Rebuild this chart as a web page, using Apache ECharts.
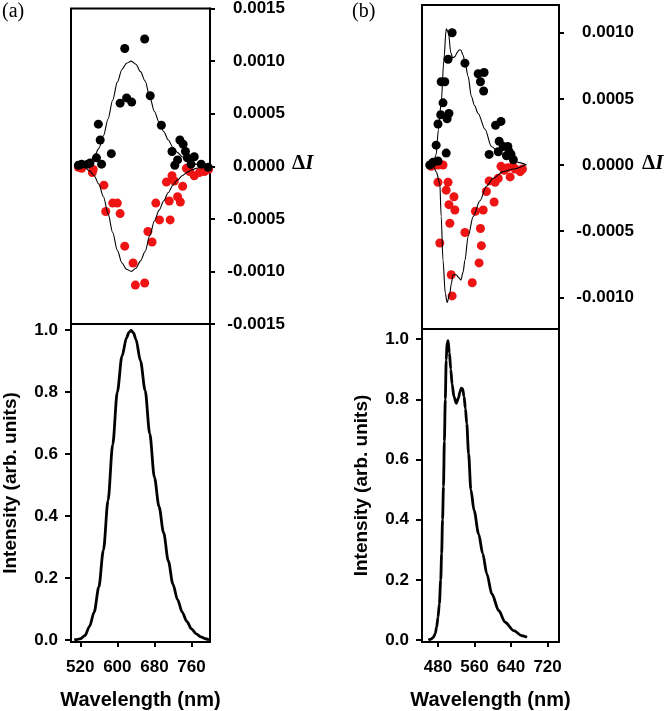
<!DOCTYPE html>
<html><head><meta charset="utf-8">
<script src="https://cdn.jsdelivr.net/npm/echarts@6/dist/echarts.min.js"></script>
<style>html,body{margin:0;padding:0;background:#fff}#c{width:666px;height:711px}</style>
</head><body><div id="c"></div>
<script>
// ---------- Panel (a) ----------
const blackAx = [516,523,536,541,555,559,563,566,587,606,616,620,631,659,671,695,718,724,730,735,742,747,751,759,766,781,796];
const blackAy = [0.00001,0.00002,0.00002,0.00003,0.00008,0.0004,0.00025,0.00002,0.00012,0.0006,0.00112,0.00065,0.00061,0.00121,0.00067,0.00039,0.00014,0.00001,0.00006,0.00025,0.00021,0.00014,0.00008,0.00002,0.00009,0.00002,-0.00001];
const redAx = [516,523,546,548,571,575,590,600,606,616,634,639,659,666,675,683,691,706,712,714,718,723,730,736,741,749,756,766,777,788,797];
const redAy = [-0.00001,-0.00002,-0.00006,-0.00003,-0.00018,-0.00043,-0.00035,-0.00035,-0.00045,-0.00076,-0.00092,-0.00113,-0.00111,-0.00062,-0.00072,-0.00035,-0.00051,-0.00015,-0.00033,-0.00051,-0.00009,-0.00014,-0.00029,-0.00034,-0.00019,-0.00002,-0.00005,-0.00009,-0.00006,-0.00005,-0.00003];
const fitAx = [515,520,530,540,550,560,570,580,590,600,610,620,630,640,650,660,670,680,690,700,710,720,730,740,750,760,770,780,790,800];
const fitApos = [0,0.000004,0.000014,0.000044,0.00009,0.00017,0.00029,0.00045,0.00063,0.0008,0.00092,0.00098,0.001,0.00097,0.0009,0.00081,0.00066,0.00052,0.00042,0.00033,0.00025,0.00018,0.00013,0.00009,0.00006,0.000036,0.00002,0.00001,0.000004,0];
const fitAneg = [0,-0.000004,-0.000014,-0.000044,-0.00009,-0.00017,-0.00029,-0.00045,-0.00063,-0.0008,-0.00092,-0.00098,-0.001,-0.00097,-0.0009,-0.00081,-0.00066,-0.00052,-0.00042,-0.00033,-0.00025,-0.00018,-0.00013,-0.00009,-0.00006,-0.000036,-0.00002,-0.00001,-0.000004,0];
const emAx = [507,515,520,530,540,550,560,570,580,590,600,610,620,625,630,635,640,650,660,670,680,690,700,710,720,730,740,750,760,770,780,790,798];
const emAy = [0,0.002,0.004,0.014,0.044,0.09,0.17,0.29,0.45,0.63,0.80,0.915,0.975,0.992,0.998,0.99,0.97,0.9,0.805,0.665,0.525,0.43,0.345,0.255,0.18,0.13,0.09,0.06,0.036,0.02,0.01,0.004,0];

// ---------- Panel (b) ----------
const blackBx = [462,469,476,480,480,486,487,491,495,498,500,502,504,511,539,568,573,580,581,592,606,612,614,618,623,630,633,636,640,645];
const blackBy = [0,0.00002,0.00015,0.00003,0.00031,0.00038,0.00063,0.00047,0.00063,0.00009,0.00035,0.0008,0.00039,0.001,0.00077,0.00069,0.00063,0.00056,0.0007,0.00008,0.0003,0.0001,0.00018,0.00033,0.00014,0.00007,0.00014,0.0001,0.00008,0.00004];
const redBx = [465,473,480,491,480,484,498,502,504,506,509,511,515,517,539,555,562,570,573,575,579,586,592,603,605,612,618,625,633,638,644,649,660,665];
const redBy = [-0.00001,0,0,0,-0.00013,-0.00059,-0.00019,-0.00013,-0.0003,-0.00044,-0.00083,-0.00099,-0.00024,-0.00034,-0.00051,-0.00089,-0.00035,-0.00074,-0.00048,-0.00061,-0.00034,-0.0002,-0.00012,-0.00028,-0.00013,-0.0001,-0.00001,-0.00004,-0.00002,-0.00009,-0.00001,-0.00003,-0.00005,-0.00003];
const fitBposX = [462,469,476,481,487,493,498,503,508,512,517,522,526,530,535,539,546,553,560,568,583,597,612,634,656,674];
const fitBposY = [0,0.00001,0.00008,0.00027,0.00047,0.0008,0.00103,0.001,0.00085,0.00081,0.00082,0.00085,0.00087,0.00087,0.00083,0.00078,0.00067,0.00052,0.00045,0.00039,0.00027,0.00014,0.0001,0.00005,0.00002,0];
const fitBnegX = [462,469,476,484,487,491,496,500,506,509,513,520,525,530,535,539,546,557,572,586,601,623,645,671];
const fitBnegY = [0,0,-0.00005,-0.00014,-0.00039,-0.00072,-0.00097,-0.00104,-0.00097,-0.0009,-0.00083,-0.00083,-0.00085,-0.00087,-0.00081,-0.00072,-0.00054,-0.00039,-0.00027,-0.00016,-0.0001,-0.00005,-0.00003,0];
const emBx = [459,465,470,474,477,480,483,486,488,490,492,494,496,498,500,502,505,508,511,515,520,525,528,531,534,537,540,543,547,552,559,569,578,587,598,613,627,646,664,675];
const emBy = [0,0.003,0.009,0.022,0.042,0.075,0.12,0.2,0.287,0.4,0.51,0.66,0.8,0.93,0.99,0.995,0.955,0.9,0.85,0.809,0.787,0.805,0.825,0.837,0.835,0.81,0.77,0.72,0.62,0.5,0.431,0.353,0.287,0.22,0.153,0.098,0.059,0.031,0.014,0.009];

// ---------- tick labels ----------
const ticksXA = [520,600,680,760];
const ticksXB = [480,560,640,720];
const ticksIntensity = [0,0.2,0.4,0.6,0.8,1.0];
const ticksDA = [-0.0015,-0.001,-0.0005,0,0.0005,0.001,0.0015];
const ticksDB = [-0.001,-0.0005,0,0.0005,0.001];
const xTitle = 'Wavelength (nm)';
const yTitle = 'Intensity (arb. units)';

const zip = (xs, ys) => xs.map((x, i) => [x, ys[i]]);
const tickFont = {fontFamily: 'Liberation Sans', fontWeight: 'bold', fontSize: 17, color: '#000'};
const titleFont = {fontFamily: 'Liberation Sans', fontWeight: 'bold', fontSize: 20, color: '#000'};
const black = '#000';
const red = '#ee1414';
const gridStyle = {show: true, borderColor: '#000', borderWidth: 2, backgroundColor: 'transparent'};

function topY(gi, min, max, ticks) {
  return {gridIndex: gi, type: 'value', position: 'right', min: min, max: max,
    axisLine: {show: true, onZero: false, lineStyle: {color: black, width: 2}},
    axisTick: {show: true, inside: false, length: 5, customValues: ticks, lineStyle: {color: black, width: 2}},
    axisLabel: Object.assign({customValues: ticks, formatter: v => v.toFixed(4), align: 'right', margin: 75}, tickFont),
    splitLine: {show: false}};
}
function botY(gi, min, max) {
  return {gridIndex: gi, type: 'value', position: 'left', min: min, max: max,
    axisLine: {show: true, onZero: false, lineStyle: {color: black, width: 2}},
    axisTick: {show: true, inside: false, length: 6, customValues: ticksIntensity, lineStyle: {color: black, width: 2}},
    axisLabel: Object.assign({customValues: ticksIntensity, formatter: v => v.toFixed(1), margin: 13}, tickFont),
    splitLine: {show: false},
    name: yTitle, nameLocation: 'middle', nameGap: 51, nameTextStyle: Object.assign({}, titleFont, {fontSize: 19})};
}
function botX(gi, min, max, ticks) {
  return {gridIndex: gi, type: 'value', min: min, max: max,
    axisLine: {show: true, onZero: false, lineStyle: {color: black, width: 2}},
    axisTick: {show: true, inside: false, length: 5, customValues: ticks, lineStyle: {color: black, width: 2}},
    axisLabel: Object.assign({customValues: ticks, margin: 17}, tickFont),
    splitLine: {show: false},
    name: xTitle, nameLocation: 'middle', nameGap: 48, nameTextStyle: titleFont};
}
function scatter(xi, xs, ys, color, z) {
  return {type: 'scatter', xAxisIndex: xi, yAxisIndex: xi, data: zip(xs, ys), symbolSize: 9,
    itemStyle: {color: color, opacity: 1}, z: z, silent: true};
}
function line(xi, xs, ys, width, z) {
  return {type: 'line', xAxisIndex: xi, yAxisIndex: xi, data: zip(xs, ys), symbol: 'none', showSymbol: false,
    smooth: 0.3, smoothMonotone: 'x', lineStyle: {color: black, width: width}, z: z, silent: true};
}

const chart = echarts.init(document.getElementById('c'), null, {renderer: 'canvas'});
chart.setOption({
  animation: false,
  backgroundColor: '#fff',
  grid: [
    Object.assign({left: 71, top: 5, width: 139, height: 319}, gridStyle),
    Object.assign({left: 71, top: 324, width: 139, height: 318}, gridStyle),
    Object.assign({left: 422, top: 5, width: 137, height: 324}, gridStyle),
    Object.assign({left: 422, top: 329, width: 137, height: 313}, gridStyle)
  ],
  xAxis: [
    {gridIndex: 0, type: 'value', min: 500, max: 800, show: false},
    botX(1, 500, 800, ticksXA),
    {gridIndex: 2, type: 'value', min: 445, max: 745, show: false},
    botX(3, 445, 745, ticksXB)
  ],
  yAxis: [
    topY(0, -0.0015, 0.0015, ticksDA),
    botY(1, -0.0065, 1.019),
    topY(2, -0.00124, 0.00121, ticksDB),
    botY(3, -0.0067, 1.034)
  ],
  series: [
    scatter(0, redAx, redAy, red, 2),
    scatter(0, blackAx, blackAy, black, 3),
    line(0, fitAx, fitApos, 1.1, 4),
    line(0, fitAx, fitAneg, 1.1, 4),
    line(1, emAx, emAy, 2.8, 4),
    scatter(2, redBx, redBy, red, 2),
    scatter(2, blackBx, blackBy, black, 3),
    line(2, fitBposX, fitBposY, 1.1, 4),
    line(2, fitBnegX, fitBnegY, 1.1, 4),
    line(3, emBx, emBy, 2.8, 4)
  ],
  graphic: [
    {type: 'text', left: 2, top: 2, style: {text: '(a)', font: '20px "Liberation Serif"', fill: '#000'}},
    {type: 'text', left: 352, top: 2, style: {text: '(b)', font: '20px "Liberation Serif"', fill: '#000'}},
    {type: 'text', left: 292, top: 153, style: {text: '{d|Δ}{i|I}', rich: {
      d: {fontFamily: 'Liberation Serif', fontWeight: 'bold', fontSize: 21, fill: '#000'},
      i: {fontFamily: 'Liberation Serif', fontWeight: 'bold', fontStyle: 'italic', fontSize: 21, fill: '#000'}}}},
    {type: 'text', left: 642, top: 153, style: {text: '{d|Δ}{i|I}', rich: {
      d: {fontFamily: 'Liberation Serif', fontWeight: 'bold', fontSize: 21, fill: '#000'},
      i: {fontFamily: 'Liberation Serif', fontWeight: 'bold', fontStyle: 'italic', fontSize: 21, fill: '#000'}}}}
  ]
});
</script></body></html>
